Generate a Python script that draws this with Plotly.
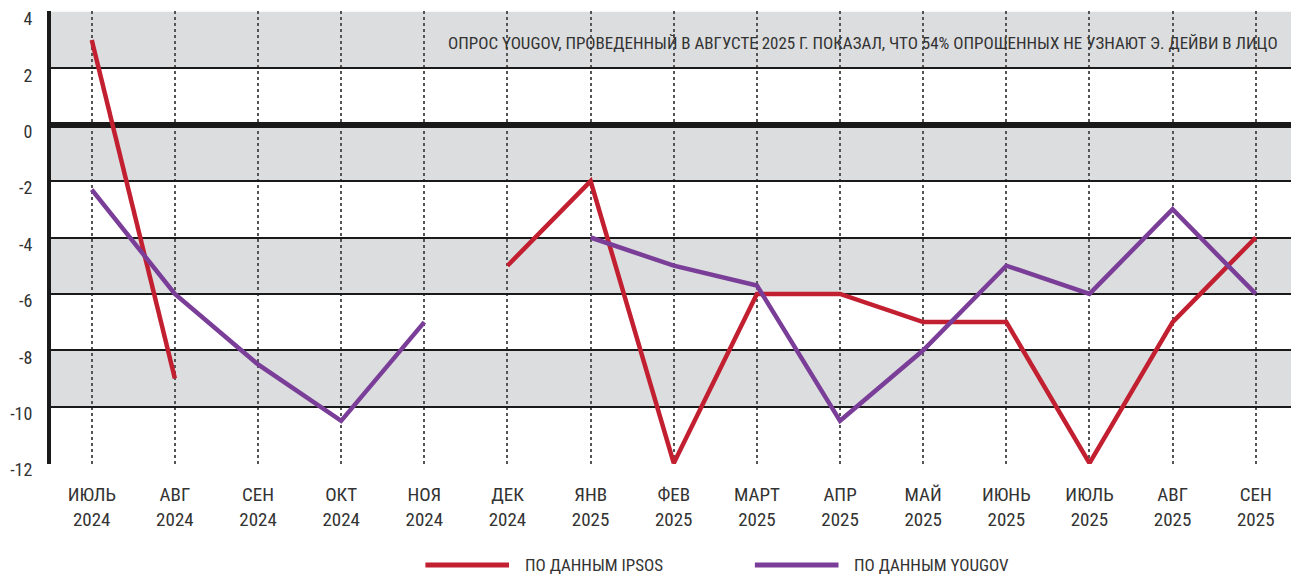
import plotly.graph_objects as go

months = ["ИЮЛЬ<br>2024", "АВГ<br>2024", "СЕН<br>2024", "ОКТ<br>2024", "НОЯ<br>2024",
          "ДЕК<br>2024", "ЯНВ<br>2025", "ФЕВ<br>2025", "МАРТ<br>2025", "АПР<br>2025",
          "МАЙ<br>2025", "ИЮНЬ<br>2025", "ИЮЛЬ<br>2025", "АВГ<br>2025", "СЕН<br>2025"]
ipsos = [3, -9, None, None, None, -5, -2, -12, -6, -6, -7, -7, -12, -7, -4]
yougov = [-2.3, -6, -8.5, -10.5, -7, None, -4, -5, -5.7, -10.5, -8, -5, -6, -3, -6]
y_ticks = [4, 2, 0, -2, -4, -6, -8, -10, -12]
gray_bands = [(2, 4), (-2, 0), (-6, -4), (-10, -8)]

RED = "#c21f30"
PURPLE = "#7a3e98"
FONT = "Roboto Condensed, Liberation Sans Narrow, sans-serif"
TXT = "#333333"

x = list(range(len(months)))

fig = go.Figure()
fig.add_trace(go.Scatter(x=x, y=ipsos, mode="lines", name="ПО ДАННЫМ IPSOS",
                         line=dict(color=RED, width=4.5), connectgaps=False))
fig.add_trace(go.Scatter(x=x, y=yougov, mode="lines", name="ПО ДАННЫМ YOUGOV",
                         line=dict(color=PURPLE, width=4.5), connectgaps=False))

# серые полосы
for lo, hi in gray_bands:
    fig.add_shape(type="rect", xref="x domain", yref="y", x0=0, x1=1, y0=lo, y1=hi,
                  fillcolor="#dcdddf", line_width=0, layer="below")

fig.add_annotation(text="ОПРОС YOUGOV, ПРОВЕДЕННЫЙ В АВГУСТЕ 2025 Г. ПОКАЗАЛ, ЧТО 54% ОПРОШЕННЫХ НЕ УЗНАЮТ Э. ДЕЙВИ В ЛИЦО",
                   xref="paper", yref="y", x=0.985, y=2.9, xanchor="right", yanchor="middle",
                   showarrow=False, font=dict(size=17, color=TXT, family=FONT))

# легенда вручную (длинные линии)
legend_items = [("ПО ДАННЫМ IPSOS", RED, 0.300), ("ПО ДАННЫМ YOUGOV", PURPLE, 0.564)]
for label, color, x0 in legend_items:
    fig.add_shape(type="line", xref="paper", yref="paper", x0=x0, x1=x0 + 0.067,
                  y0=-0.223, y1=-0.223, line=dict(color=color, width=5))
    fig.add_annotation(text=label, xref="paper", yref="paper", x=x0 + 0.078, y=-0.223,
                       xanchor="left", yanchor="middle", showarrow=False,
                       font=dict(size=17, color=TXT, family=FONT))

# страница имеет отступ 8px, поэтому фигура чуть меньше окна
fig.update_layout(
    width=1291, height=571,
    margin=dict(l=43, r=0, t=3, b=115),
    paper_bgcolor="white", plot_bgcolor="white",
    showlegend=False,
    font=dict(family=FONT, color=TXT, size=20),
)
fig.update_xaxes(range=[-0.49, 14.52], tickvals=x, ticktext=months, automargin=False,
                 showgrid=True, gridcolor="#555555", griddash="dot", gridwidth=1.5,
                 zeroline=False, showline=False, ticks="outside", ticklen=13,
                 tickcolor="rgba(0,0,0,0)", tickfont=dict(size=19))
fig.update_yaxes(range=[-12.03, 4.03], tickvals=y_ticks, ticktext=[str(v) for v in y_ticks],
                 automargin=False,
                 showgrid=True, gridcolor="#1a1a1a", gridwidth=1.5,
                 zeroline=True, zerolinecolor="#1a1a1a", zerolinewidth=6,
                 showline=True, linecolor="#1a1a1a", linewidth=4,
                 ticks="outside", ticklen=11, tickcolor="rgba(0,0,0,0)",
                 ticklabelshift=7, ticklabeloverflow="allow",
                 tickfont=dict(size=18))

fig.write_html("out.html")
